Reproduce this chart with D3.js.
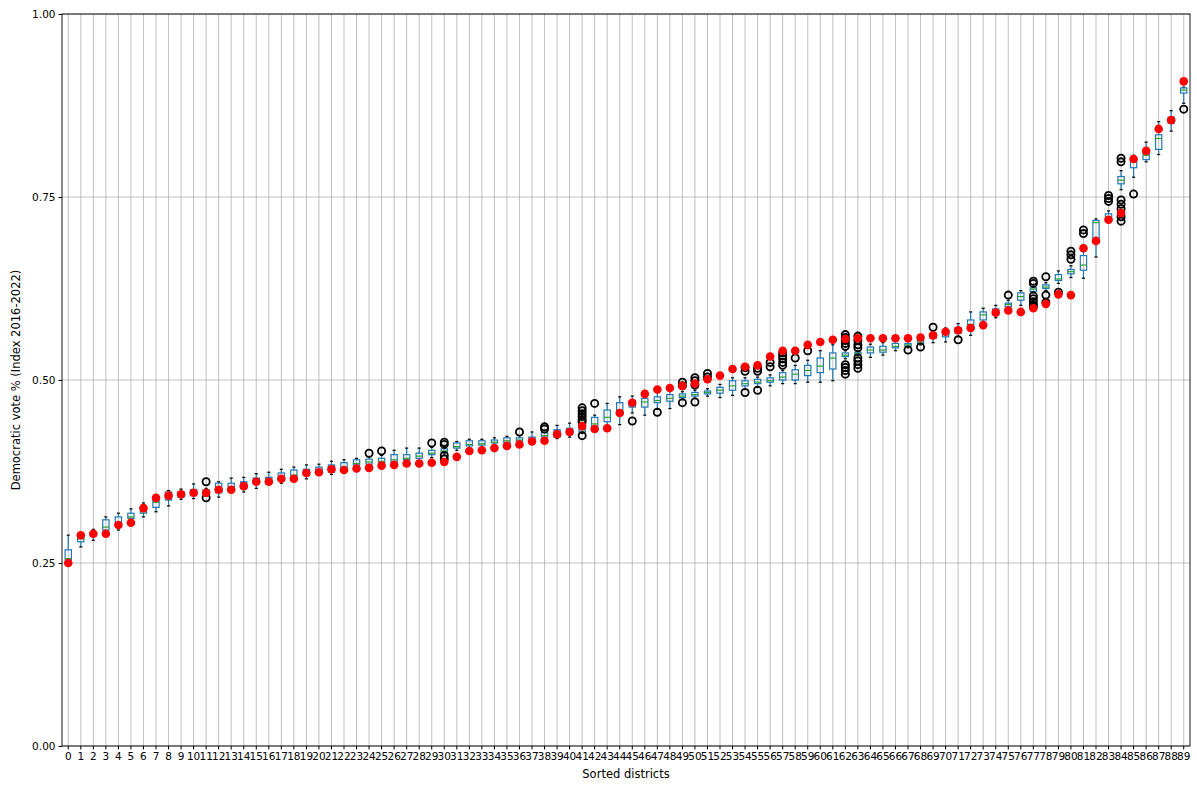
<!DOCTYPE html>
<html><head><meta charset="utf-8">
<script src="https://cdn.jsdelivr.net/npm/d3@7"></script>
<style>body{margin:0;background:#fff}svg{display:block}text{font-family:"DejaVu Sans",sans-serif}</style>
</head><body>
<script>
const districts = d3.range(90).map(String);
const q1 = [0.254,0.279,0.287,0.295,0.302,0.311,0.318,0.326,0.336,0.340,0.342,0.343,0.346,0.351,0.352,0.359,0.361,0.363,0.367,0.370,0.373,0.374,0.378,0.384,0.385,0.387,0.388,0.391,0.393,0.398,0.401,0.407,0.410,0.411,0.414,0.414,0.416,0.417,0.422,0.422,0.426,0.429,0.436,0.443,0.455,0.463,0.463,0.469,0.471,0.476,0.478,0.481,0.482,0.486,0.492,0.495,0.497,0.500,0.500,0.506,0.510,0.515,0.532,0.535,0.537,0.538,0.544,0.546,0.550,0.557,0.559,0.564,0.572,0.582,0.592,0.600,0.609,0.621,0.625,0.636,0.645,0.650,0.692,0.720,0.768,0.790,0.801,0.815,0.851,0.892];
const medians = [0.256,0.283,0.290,0.299,0.305,0.313,0.320,0.333,0.340,0.343,0.344,0.346,0.352,0.354,0.356,0.362,0.364,0.366,0.370,0.373,0.376,0.377,0.381,0.386,0.388,0.389,0.391,0.393,0.396,0.400,0.403,0.409,0.412,0.413,0.415,0.417,0.418,0.419,0.424,0.426,0.429,0.432,0.440,0.449,0.459,0.466,0.470,0.472,0.475,0.478,0.480,0.483,0.486,0.492,0.495,0.497,0.499,0.504,0.508,0.513,0.519,0.530,0.534,0.536,0.541,0.541,0.546,0.548,0.552,0.560,0.565,0.567,0.576,0.589,0.594,0.603,0.614,0.624,0.627,0.638,0.648,0.657,0.715,0.723,0.773,0.800,0.807,0.830,0.855,0.896];
const q3 = [0.268,0.288,0.292,0.309,0.313,0.318,0.327,0.339,0.347,0.347,0.350,0.350,0.359,0.359,0.361,0.366,0.367,0.373,0.377,0.378,0.381,0.384,0.387,0.391,0.392,0.393,0.398,0.398,0.400,0.404,0.406,0.414,0.417,0.417,0.418,0.421,0.421,0.422,0.428,0.432,0.434,0.436,0.449,0.459,0.469,0.472,0.475,0.477,0.480,0.481,0.483,0.485,0.490,0.499,0.499,0.501,0.503,0.510,0.514,0.520,0.530,0.537,0.537,0.538,0.545,0.546,0.550,0.550,0.554,0.564,0.568,0.571,0.582,0.593,0.597,0.605,0.619,0.626,0.630,0.644,0.651,0.670,0.718,0.727,0.778,0.803,0.811,0.835,0.859,0.899];
const whiskerLow = [0.254,0.272,0.281,0.294,0.295,0.309,0.313,0.320,0.328,0.337,0.338,0.341,0.340,0.348,0.347,0.352,0.357,0.359,0.362,0.365,0.370,0.371,0.373,0.380,0.381,0.383,0.384,0.386,0.389,0.394,0.399,0.404,0.407,0.408,0.411,0.411,0.413,0.414,0.419,0.420,0.422,0.427,0.432,0.436,0.439,0.455,0.452,0.460,0.461,0.473,0.475,0.478,0.476,0.479,0.487,0.490,0.492,0.495,0.495,0.497,0.497,0.499,0.529,0.533,0.531,0.534,0.540,0.544,0.548,0.551,0.552,0.559,0.561,0.576,0.585,0.597,0.602,0.619,0.622,0.632,0.640,0.639,0.668,0.717,0.760,0.777,0.798,0.808,0.840,0.878];
const whiskerHigh = [0.288,0.291,0.296,0.313,0.318,0.324,0.332,0.343,0.349,0.351,0.358,0.352,0.361,0.366,0.367,0.372,0.374,0.378,0.381,0.384,0.385,0.389,0.391,0.393,0.395,0.397,0.404,0.407,0.407,0.408,0.409,0.416,0.419,0.419,0.421,0.423,0.424,0.429,0.431,0.438,0.441,0.440,0.452,0.468,0.477,0.478,0.480,0.483,0.485,0.484,0.486,0.488,0.494,0.503,0.503,0.504,0.507,0.513,0.520,0.527,0.540,0.548,0.540,0.540,0.549,0.551,0.553,0.553,0.557,0.566,0.571,0.577,0.593,0.598,0.602,0.609,0.622,0.628,0.633,0.649,0.656,0.685,0.720,0.731,0.786,0.807,0.825,0.853,0.868,0.900];
const outliers = [[],[],[],[],[],[],[],[],[],[],[],[0.361,0.339],[],[],[],[],[],[],[],[],[],[],[],[],[0.400],[0.403],[],[],[],[0.414],[0.415,0.412,0.397,0.392],[],[],[],[],[],[0.429],[],[0.436,0.433],[],[],[0.462,0.458,0.454,0.450,0.446,0.443,0.424],[0.468],[],[],[0.444],[],[0.456],[],[0.497,0.492,0.469],[0.503,0.499,0.493,0.470],[0.509,0.504],[],[],[0.517,0.512,0.483],[0.516,0.512,0.486],[0.524,0.518],[0.537,0.533,0.529,0.524,0.520],[0.530],[0.540],[],[],[0.562,0.558,0.554,0.550,0.546,0.521,0.517,0.513,0.508],[0.560,0.554,0.548,0.544,0.530,0.526,0.521,0.516],[],[],[],[0.541],[0.545],[0.572],[],[0.555],[],[],[],[0.616],[],[0.635,0.632,0.615,0.611,0.607,0.603,0.600],[0.641,0.616,0.606],[0.620],[0.676,0.671,0.665],[0.705,0.700],[],[0.752,0.748,0.744],[0.803,0.798,0.746,0.740,0.734,0.723,0.717],[0.754],[],[],[],[0.870]];
const actual = [0.250,0.288,0.290,0.290,0.302,0.305,0.325,0.339,0.342,0.344,0.346,0.346,0.350,0.350,0.355,0.361,0.361,0.365,0.365,0.373,0.374,0.378,0.377,0.379,0.380,0.383,0.384,0.386,0.386,0.387,0.388,0.395,0.403,0.404,0.407,0.410,0.412,0.416,0.417,0.426,0.429,0.437,0.433,0.434,0.455,0.469,0.481,0.487,0.489,0.492,0.495,0.501,0.506,0.515,0.518,0.520,0.532,0.540,0.540,0.548,0.552,0.555,0.556,0.557,0.557,0.557,0.557,0.557,0.558,0.561,0.566,0.568,0.571,0.575,0.592,0.595,0.593,0.598,0.604,0.617,0.616,0.680,0.690,0.719,0.728,0.802,0.813,0.843,0.855,0.908];
const yTicks = [0, 0.25, 0.5, 0.75, 1.0];

const W = 1197, H = 785;
const m = {left: 62, right: 1190, top: 14, bottom: 746};
const svg = d3.select("body").append("svg").attr("width", W).attr("height", H);
const x = d3.scaleBand().domain(districts).range([m.left, m.right]).padding(0);
const y = d3.scaleLinear().domain([0, 1]).range([m.bottom, m.top]);
const cx = d => x(d) + x.bandwidth() / 2;

// grid
const grid = svg.append("g").attr("stroke", "#b0b0b0").attr("stroke-width", 0.8);
grid.selectAll("line.v").data(districts).join("line").attr("class","v")
  .attr("x1", cx).attr("x2", cx).attr("y1", m.top).attr("y2", m.bottom);
grid.selectAll("line.h").data(yTicks).join("line").attr("class","h")
  .attr("x1", m.left).attr("x2", m.right).attr("y1", d => y(d)).attr("y2", d => y(d));

// axes
const xAxis = d3.axisBottom(x).tickSize(3.5).tickPadding(3);
const gx = svg.append("g").attr("transform", `translate(0,${m.bottom})`).call(xAxis);
gx.select(".domain").remove();
gx.selectAll("text").attr("font-size", 10.5).attr("fill", "#000").attr("font-family", "DejaVu Sans");
gx.selectAll("line").attr("stroke", "#000");
const yAxis = d3.axisLeft(y).tickValues(yTicks).tickFormat(d3.format(".2f")).tickSize(3.5).tickPadding(3);
const gy = svg.append("g").attr("transform", `translate(${m.left},0)`).call(yAxis);
gy.select(".domain").remove();
gy.selectAll("text").attr("font-size", 10.5).attr("fill", "#000").attr("font-family", "DejaVu Sans");
gy.selectAll("line").attr("stroke", "#000");

svg.append("rect").attr("x", m.left).attr("y", m.top).attr("width", m.right - m.left).attr("height", m.bottom - m.top)
  .attr("fill", "none").attr("stroke", "#000").attr("stroke-width", 0.9);

svg.append("text").attr("x", (m.left + m.right) / 2).attr("y", 778).attr("text-anchor", "middle")
  .attr("font-size", 11.5).text("Sorted districts");
svg.append("text").attr("transform", `translate(20,${(m.top + m.bottom) / 2}) rotate(-90)`).attr("text-anchor", "middle")
  .attr("font-size", 11.5).text("Democratic vote % (Index 2016-2022)");

// boxes
const bw = x.bandwidth() * 0.5;
const cw = bw * 0.5;
const boxes = svg.append("g");
districts.forEach((d, i) => {
  const g = boxes.append("g");
  const c = cx(d);
  g.append("line").attr("x1", c).attr("x2", c).attr("y1", y(q1[i])).attr("y2", y(whiskerLow[i])).attr("stroke", "#1f77b4").attr("stroke-width", 1.2);
  g.append("line").attr("x1", c).attr("x2", c).attr("y1", y(q3[i])).attr("y2", y(whiskerHigh[i])).attr("stroke", "#1f77b4").attr("stroke-width", 1.2);
  g.append("line").attr("x1", c - cw/2).attr("x2", c + cw/2).attr("y1", y(whiskerLow[i])).attr("y2", y(whiskerLow[i])).attr("stroke", "#000").attr("stroke-width", 1.2);
  g.append("line").attr("x1", c - cw/2).attr("x2", c + cw/2).attr("y1", y(whiskerHigh[i])).attr("y2", y(whiskerHigh[i])).attr("stroke", "#000").attr("stroke-width", 1.2);
  g.append("rect").attr("x", c - bw/2).attr("width", bw).attr("y", y(q3[i])).attr("height", Math.max(0.5, y(q1[i]) - y(q3[i])))
    .attr("fill", "none").attr("stroke", "#1f77b4").attr("stroke-width", 1.2);
  g.append("line").attr("x1", c - bw/2).attr("x2", c + bw/2).attr("y1", y(medians[i])).attr("y2", y(medians[i])).attr("stroke", "#2ca02c").attr("stroke-width", 1.2);
  g.selectAll("circle").data(outliers[i]).join("circle").attr("cx", c).attr("cy", v => y(v)).attr("r", 3.6)
    .attr("fill", "none").attr("stroke", "#000").attr("stroke-width", 1.8);
});

// actual values
svg.append("g").selectAll("circle").data(districts).join("circle")
  .attr("cx", cx).attr("cy", (d, i) => y(actual[i])).attr("r", 4.3).attr("fill", "#ff0000");
</script>
</body></html>
